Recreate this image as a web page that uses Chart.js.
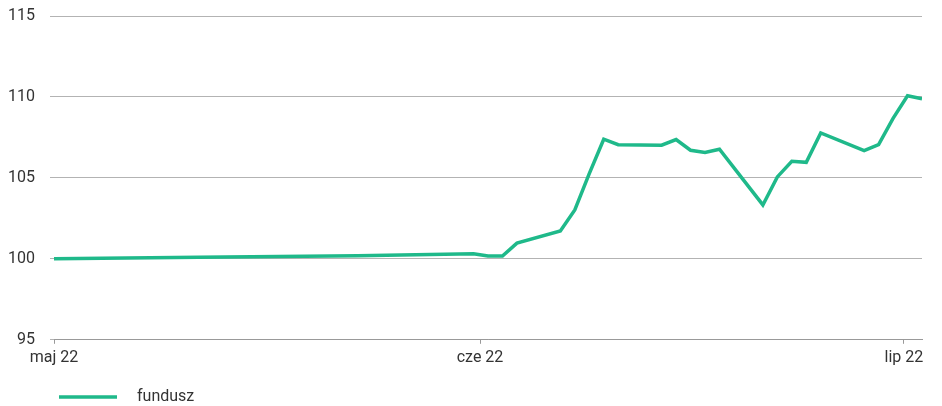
<!DOCTYPE html>
<html>
<head>
<meta charset="utf-8">
<style>
  body { margin: 0; background: #fff; }
  #wrap { width: 942px; height: 406px; position: relative; }
</style>
<script src="https://cdn.jsdelivr.net/npm/chart.js@4"></script>
</head>
<body>
<div id="wrap"><canvas id="fundChart"></canvas></div>
<script>
const dates = [
  '2022-05-02', '2022-05-12', '2022-05-23', '2022-05-31',
  '2022-06-01', '2022-06-02', '2022-06-03',
  '2022-06-06', '2022-06-07', '2022-06-08', '2022-06-09', '2022-06-10',
  '2022-06-13', '2022-06-14', '2022-06-15', '2022-06-16', '2022-06-17',
  '2022-06-20', '2022-06-21', '2022-06-22', '2022-06-23', '2022-06-24',
  '2022-06-27', '2022-06-28', '2022-06-29', '2022-06-30', '2022-07-01'
];
const fundValues = [
  100.00, 100.10, 100.19, 100.32,
  100.17, 100.17, 100.97,
  101.72, 103.02, 105.27, 107.39, 107.05,
  107.02, 107.37, 106.71, 106.57, 106.77,
  103.33, 105.06, 106.03, 105.96, 107.78,
  106.68, 107.06, 108.68, 110.07, 109.88
];
const monthLabels = ['maj 22', 'cze 22', 'lip 22'];
const monthTickDays = [0, 29.45, 58.75];

const startTime = Date.parse(dates[0]);
const dayOf = (d) => (Date.parse(d) - startTime) / 86400000;

const green = '#1fb98a';
const textColor = '#333333';

// legend sample: short line with some empty room left of it
const legendIcon = document.createElement('canvas');
legendIcon.width = 128;
legendIcon.height = 4;
const ictx = legendIcon.getContext('2d');
ictx.fillStyle = green;
ictx.fillRect(58, 0.25, 58, 3.5);

const chart = new Chart(document.getElementById('fundChart'), {
  type: 'line',
  data: {
    datasets: [{
      label: 'fundusz',
      data: dates.map((d, i) => ({ x: dayOf(d), y: fundValues[i] })),
      borderColor: green,
      backgroundColor: green,
      borderWidth: 3.5,
      pointRadius: 0,
      tension: 0
    }]
  },
  options: {
    responsive: true,
    maintainAspectRatio: false,
    animation: false,
    layout: {
      padding: { top: 16, right: 20, left: 0, bottom: -9 }
    },
    scales: {
      x: {
        type: 'linear',
        min: 0,
        max: 60,
        afterBuildTicks: (scale) => {
          scale.ticks = monthTickDays.map((v) => ({ value: v }));
        },
        afterFit: (scale) => { scale.height += 15; },
        ticks: {
          autoSkip: false,
          maxRotation: 0,
          padding: 5,
          color: textColor,
          font: { family: 'Roboto', size: 16 },
          callback: (value, index) => monthLabels[index]
        },
        grid: {
          drawOnChartArea: false,
          drawTicks: true,
          tickLength: 4,
          color: '#999999'
        },
        border: {
          display: true,
          color: '#999999'
        }
      },
      y: {
        min: 95,
        max: 115,
        afterFit: (scale) => {
          scale.width = 54;
          scale.paddingTop = 0;
          scale.paddingBottom = 0;
        },
        ticks: {
          stepSize: 5,
          padding: 15,
          color: textColor,
          font: { family: 'Roboto', size: 16 }
        },
        grid: {
          color: '#b3b3b3',
          tickLength: 4
        },
        border: {
          display: false
        }
      }
    },
    plugins: {
      tooltip: { enabled: false },
      legend: {
        position: 'bottom',
        align: 'start',
        labels: {
          usePointStyle: true,
          pointStyle: legendIcon,
          pointStyleWidth: 128,
          padding: 1,
          color: textColor,
          font: { family: 'Roboto', size: 16 }
        }
      }
    }
  }
});
</script>
</body>
</html>
